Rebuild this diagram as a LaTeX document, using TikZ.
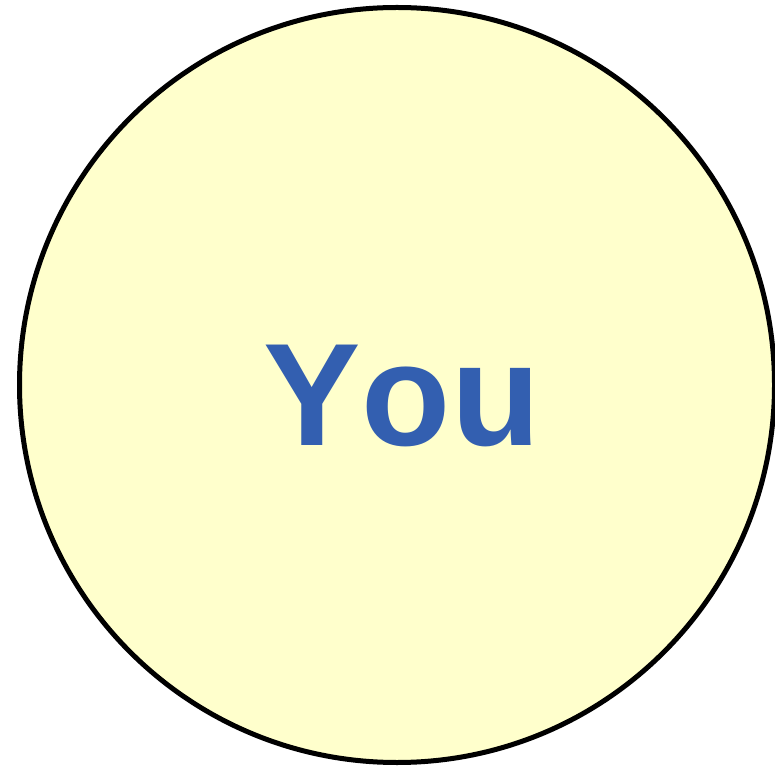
\documentclass[tikz,border=0pt]{standalone}
\usepackage{fontspec}
\setmainfont{Liberation Sans}
\definecolor{youfill}{HTML}{FFFFCC}
\definecolor{youblue}{HTML}{335FB0}
\tikzset{
    selfcircle/.style={circle, draw=black, line width=5pt, fill=youfill, minimum size=755pt, inner sep=0pt},
    selflabel/.style={text=youblue, font=\fontsize{146}{150}\selectfont\bfseries, anchor=base}
}
\begin{document}
\begin{tikzpicture}[x=1pt, y=1pt]
    \useasboundingbox (0,0) rectangle (775,766);

    % Circle
    \node[selfcircle] (you) at (397,381) {};

    % Label
    \node[selflabel] (youtext) at (402,321) {Y\kern1pt o\kern1pt u};
\end{tikzpicture}
\end{document}
